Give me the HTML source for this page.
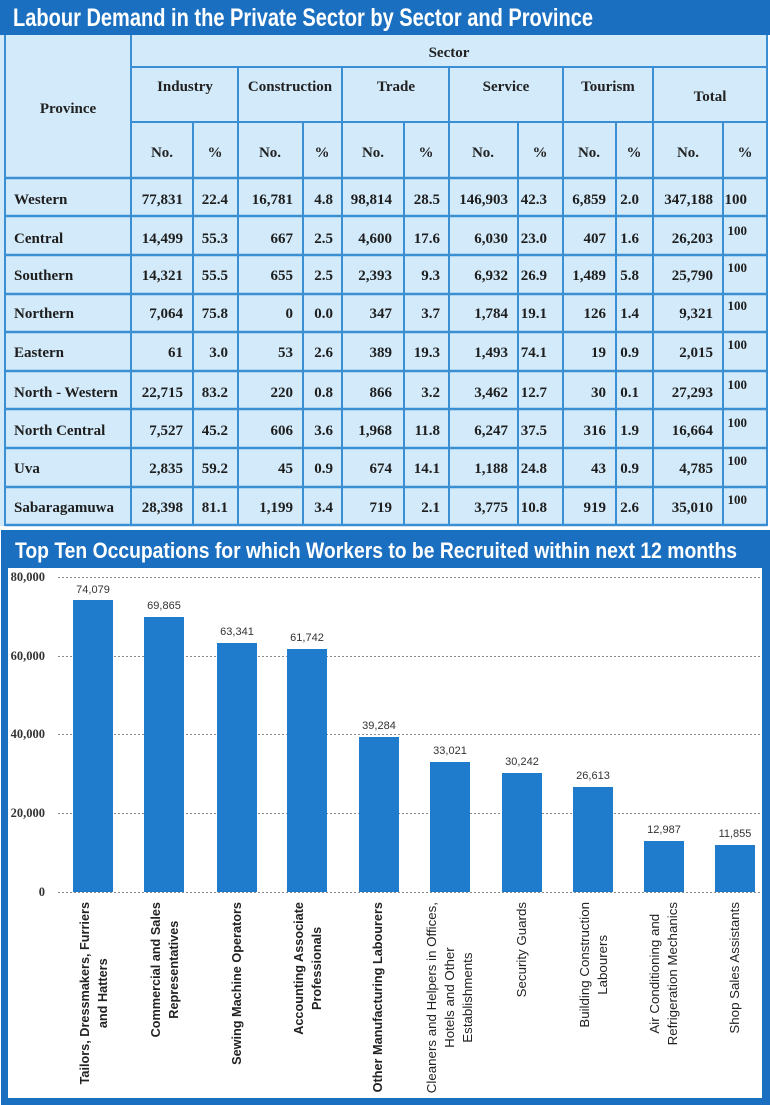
<!DOCTYPE html>
<html><head><meta charset="utf-8">
<style>
html,body{margin:0;padding:0;background:#fff;}
body{width:770px;height:1105px;position:relative;overflow:hidden;}
svg{position:absolute;left:0;top:0;}
.xl{position:absolute;top:902px;width:max-content;transform-origin:0 0;transform:rotate(-90deg) translate(-100%,-50%);white-space:nowrap;text-align:center;line-height:18px;color:#222;font-family:"Liberation Sans",sans-serif;}
.b{font-weight:bold;font-size:12.7px;}
.r{font-size:13.3px;}
</style></head><body>
<svg width="770" height="1105" xmlns="http://www.w3.org/2000/svg">
<!-- top title -->
<rect x="0" y="0" width="770" height="35" fill="#1a6fc0"/>
<text x="13" y="26" font-family="Liberation Sans" font-weight="bold" font-size="25" fill="#fff" textLength="580" lengthAdjust="spacingAndGlyphs">Labour Demand in the Private Sector by Sector and Province</text>
<!-- table bg -->
<rect x="0" y="35" width="767" height="491" fill="#d2eaf9"/>
<g stroke="#3a8ed2" stroke-width="2" fill="none">
<line x1="5" y1="35" x2="5" y2="526"/>
<line x1="767" y1="35" x2="767" y2="526"/>
<line x1="131" y1="35" x2="131" y2="526"/>
<line x1="131" y1="67" x2="767" y2="67"/>
<line x1="131" y1="122" x2="767" y2="122"/>
<line x1="238" y1="67" x2="238" y2="526"/>
<line x1="342" y1="67" x2="342" y2="526"/>
<line x1="449" y1="67" x2="449" y2="526"/>
<line x1="563" y1="67" x2="563" y2="526"/>
<line x1="653" y1="67" x2="653" y2="526"/>
<line x1="193" y1="122" x2="193" y2="526"/>
<line x1="303" y1="122" x2="303" y2="526"/>
<line x1="404" y1="122" x2="404" y2="526"/>
<line x1="518" y1="122" x2="518" y2="526"/>
<line x1="616" y1="122" x2="616" y2="526"/>
<line x1="723" y1="122" x2="723" y2="526"/>
</g>
<g stroke="#3a8ed2" stroke-width="2.5">
<line x1="5" y1="178" x2="767" y2="178"/>
<line x1="5" y1="216" x2="767" y2="216"/>
<line x1="5" y1="255" x2="767" y2="255"/>
<line x1="5" y1="294" x2="767" y2="294"/>
<line x1="5" y1="332" x2="767" y2="332"/>
<line x1="5" y1="371" x2="767" y2="371"/>
<line x1="5" y1="409" x2="767" y2="409"/>
<line x1="5" y1="448" x2="767" y2="448"/>
<line x1="5" y1="487" x2="767" y2="487"/>
<line x1="5" y1="525" x2="767" y2="525"/>
</g>
<!-- headers -->
<g font-family="Liberation Serif" font-weight="bold" font-size="15" fill="#222" text-anchor="middle">
<text x="449" y="57">Sector</text>
<text x="68" y="113">Province</text>
<text x="185" y="91">Industry</text>
<text x="290" y="91">Construction</text>
<text x="396" y="91">Trade</text>
<text x="506" y="91">Service</text>
<text x="608" y="91">Tourism</text>
<text x="710" y="101">Total</text>
<text x="162" y="157">No.</text><text x="215" y="157">%</text>
<text x="270" y="157">No.</text><text x="322" y="157">%</text>
<text x="373" y="157">No.</text><text x="426" y="157">%</text>
<text x="483" y="157">No.</text><text x="540" y="157">%</text>
<text x="589" y="157">No.</text><text x="634" y="157">%</text>
<text x="688" y="157">No.</text><text x="745" y="157">%</text>
</g>
<!-- data -->
<g font-family="Liberation Serif" font-weight="bold" font-size="15" fill="#1e1e1e">
<g transform="translate(0,204)"><text x="14" y="0">Western</text><g text-anchor="end"><text x="183">77,831</text><text x="228">22.4</text><text x="293">16,781</text><text x="333">4.8</text><text x="392">98,814</text><text x="440">28.5</text><text x="508">146,903</text><text x="547">42.3</text><text x="606">6,859</text><text x="639">2.0</text><text x="713">347,188</text><text x="747">100</text></g></g>
<g transform="translate(0,243)"><text x="14" y="0">Central</text><g text-anchor="end"><text x="183">14,499</text><text x="228">55.3</text><text x="293">667</text><text x="333">2.5</text><text x="392">4,600</text><text x="440">17.6</text><text x="508">6,030</text><text x="547">23.0</text><text x="606">407</text><text x="639">1.6</text><text x="713">26,203</text><text x="747" y="-8" font-size="13">100</text></g></g>
<g transform="translate(0,280)"><text x="14" y="0">Southern</text><g text-anchor="end"><text x="183">14,321</text><text x="228">55.5</text><text x="293">655</text><text x="333">2.5</text><text x="392">2,393</text><text x="440">9.3</text><text x="508">6,932</text><text x="547">26.9</text><text x="606">1,489</text><text x="639">5.8</text><text x="713">25,790</text><text x="747" y="-8" font-size="13">100</text></g></g>
<g transform="translate(0,318)"><text x="14" y="0">Northern</text><g text-anchor="end"><text x="183">7,064</text><text x="228">75.8</text><text x="293">0</text><text x="333">0.0</text><text x="392">347</text><text x="440">3.7</text><text x="508">1,784</text><text x="547">19.1</text><text x="606">126</text><text x="639">1.4</text><text x="713">9,321</text><text x="747" y="-8" font-size="13">100</text></g></g>
<g transform="translate(0,357)"><text x="14" y="0">Eastern</text><g text-anchor="end"><text x="183">61</text><text x="228">3.0</text><text x="293">53</text><text x="333">2.6</text><text x="392">389</text><text x="440">19.3</text><text x="508">1,493</text><text x="547">74.1</text><text x="606">19</text><text x="639">0.9</text><text x="713">2,015</text><text x="747" y="-8" font-size="13">100</text></g></g>
<g transform="translate(0,397)"><text x="14" y="0">North - Western</text><g text-anchor="end"><text x="183">22,715</text><text x="228">83.2</text><text x="293">220</text><text x="333">0.8</text><text x="392">866</text><text x="440">3.2</text><text x="508">3,462</text><text x="547">12.7</text><text x="606">30</text><text x="639">0.1</text><text x="713">27,293</text><text x="747" y="-8" font-size="13">100</text></g></g>
<g transform="translate(0,435)"><text x="14" y="0">North Central</text><g text-anchor="end"><text x="183">7,527</text><text x="228">45.2</text><text x="293">606</text><text x="333">3.6</text><text x="392">1,968</text><text x="440">11.8</text><text x="508">6,247</text><text x="547">37.5</text><text x="606">316</text><text x="639">1.9</text><text x="713">16,664</text><text x="747" y="-8" font-size="13">100</text></g></g>
<g transform="translate(0,473)"><text x="14" y="0">Uva</text><g text-anchor="end"><text x="183">2,835</text><text x="228">59.2</text><text x="293">45</text><text x="333">0.9</text><text x="392">674</text><text x="440">14.1</text><text x="508">1,188</text><text x="547">24.8</text><text x="606">43</text><text x="639">0.9</text><text x="713">4,785</text><text x="747" y="-8" font-size="13">100</text></g></g>
<g transform="translate(0,512)"><text x="14" y="0">Sabaragamuwa</text><g text-anchor="end"><text x="183">28,398</text><text x="228">81.1</text><text x="293">1,199</text><text x="333">3.4</text><text x="392">719</text><text x="440">2.1</text><text x="508">3,775</text><text x="547">10.8</text><text x="606">919</text><text x="639">2.6</text><text x="713">35,010</text><text x="747" y="-8" font-size="13">100</text></g></g>
</g>
<!-- chart box -->
<rect x="1" y="530" width="769" height="575" fill="#1a6fc0"/>
<rect x="8" y="568" width="754" height="530" fill="#fff"/>
<text x="15" y="558" font-family="Liberation Sans" font-weight="bold" font-size="22" fill="#fff" textLength="722" lengthAdjust="spacingAndGlyphs">Top Ten Occupations for which Workers to be Recruited within next 12 months</text>
<!-- gridlines -->
<g stroke="#8a8a8a" stroke-width="1" stroke-dasharray="2,2">
<line x1="58" y1="577.5" x2="760" y2="577.5"/>
<line x1="58" y1="656.5" x2="760" y2="656.5"/>
<line x1="58" y1="734.5" x2="760" y2="734.5"/>
<line x1="58" y1="813.5" x2="760" y2="813.5"/>
<line x1="58" y1="892.5" x2="760" y2="892.5"/>
</g>
<g font-family="Liberation Serif" font-weight="bold" font-size="12.5" fill="#333" text-anchor="end">
<text x="45" y="581">80,000</text>
<text x="45" y="660">60,000</text>
<text x="45" y="738">40,000</text>
<text x="45" y="817">20,000</text>
<text x="45" y="896">0</text>
</g>
<!-- bars -->
<g fill="#1f7ccd">
<rect x="73" y="600" width="40" height="292"/>
<rect x="144" y="617" width="40" height="275"/>
<rect x="217" y="643" width="40" height="249"/>
<rect x="287" y="649" width="40" height="243"/>
<rect x="359" y="737" width="40" height="155"/>
<rect x="430" y="762" width="40" height="130"/>
<rect x="502" y="773" width="40" height="119"/>
<rect x="573" y="787" width="40" height="105"/>
<rect x="644" y="841" width="40" height="51"/>
<rect x="715" y="845" width="40" height="47"/>
</g>
<g font-family="Liberation Sans" font-size="11" fill="#333" text-anchor="middle">
<text x="93" y="593">74,079</text>
<text x="164" y="609">69,865</text>
<text x="237" y="635">63,341</text>
<text x="307" y="641">61,742</text>
<text x="379" y="729">39,284</text>
<text x="450" y="754">33,021</text>
<text x="522" y="765">30,242</text>
<text x="593" y="779">26,613</text>
<text x="664" y="833">12,987</text>
<text x="735" y="837">11,855</text>
</g>
</svg>
<div class="xl b" style="left:94px">Tailors, Dressmakers, Furriers<br>and Hatters</div>
<div class="xl b" style="left:165px">Commercial and Sales<br>Representatives</div>
<div class="xl b" style="left:237px">Sewing Machine Operators</div>
<div class="xl b" style="left:308px">Accounting Associate<br>Professionals</div>
<div class="xl b" style="left:378px">Other Manufacturing Labourers</div>
<div class="xl r" style="left:450px">Cleaners and Helpers in Offices,<br>Hotels and Other<br>Establishments</div>
<div class="xl r" style="left:522px">Security Guards</div>
<div class="xl r" style="left:594px">Building Construction<br>Labourers</div>
<div class="xl r" style="left:664px">Air Conditioning and<br>Refrigeration Mechanics</div>
<div class="xl r" style="left:735px">Shop Sales Assistants</div>
</body></html>
